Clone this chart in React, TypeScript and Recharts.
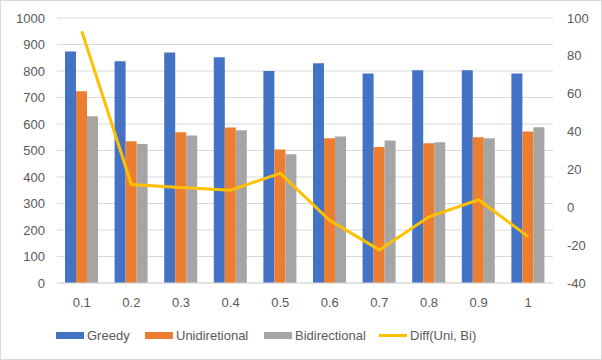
import { ComposedChart, Bar, Line, XAxis, YAxis, CartesianGrid } from 'recharts';

const categories = ['0.1', '0.2', '0.3', '0.4', '0.5', '0.6', '0.7', '0.8', '0.9', '1'];
const greedy = [874, 837, 870, 852, 800, 829, 791, 803, 803, 791];
const unidirectional = [724, 535, 569, 587, 504, 546, 513, 527, 550, 572];
const bidirectional = [629, 525, 557, 576, 486, 553, 538, 531, 546, 588];
const diffUniBi = [93, 12, 10.5, 9, 18, -7, -22.5, -5, 4, -15.5];

const leftTicks = [0, 100, 200, 300, 400, 500, 600, 700, 800, 900, 1000];
const rightTicks = [-40, -20, 0, 20, 40, 60, 80, 100];

const COLORS = {
  greedy: '#4472C4',
  uni: '#ED7D31',
  bi: '#A5A5A5',
  diff: '#FFC000',
};

const FONT = '"Liberation Sans", Arial, sans-serif';
const TEXT = '#595959';

const legendItems = [
  { label: 'Greedy', color: COLORS.greedy, kind: 'rect', width: 89 },
  { label: 'Unidiretional', color: COLORS.uni, kind: 'rect', width: 119 },
  { label: 'Bidirectional', color: COLORS.bi, kind: 'rect', width: 115 },
  { label: 'Diff(Uni, Bi)', color: COLORS.diff, kind: 'line', width: 100 },
];

function ChartLegend() {
  return (
    <div
      style={{
        position: 'absolute',
        left: 55,
        top: 327,
        display: 'flex',
        alignItems: 'center',
        fontFamily: FONT,
        fontSize: 13,
        color: TEXT,
      }}
    >
      {legendItems.map((item) => (
        <div key={item.label} style={{ display: 'flex', alignItems: 'center', width: item.width }}>
          <span
            style={{
              display: 'inline-block',
              width: 28,
              height: item.kind === 'rect' ? 7 : 3,
              backgroundColor: item.color,
              marginRight: 3,
            }}
          />
          <span style={{ whiteSpace: 'nowrap' }}>{item.label}</span>
        </div>
      ))}
    </div>
  );
}

export default function App() {
  const data = categories.map((c, i) => ({
    cat: c,
    greedy: greedy[i],
    uni: unidirectional[i],
    bi: bidirectional[i],
    diff: diffUniBi[i],
  }));

  return (
    <div
      style={{
        position: 'fixed',
        left: 0,
        top: 0,
        width: 602,
        height: 360,
        boxSizing: 'border-box',
        border: '1px solid #d9d9d9',
        background: '#fff',
      }}
    >
      <ComposedChart
        width={600}
        height={358}
        data={data}
        margin={{ top: 17, right: 0, bottom: 0, left: 0 }}
        barGap={0}
        style={{ fontFamily: FONT }}
      >
        <CartesianGrid vertical={false} stroke="#d9d9d9" yAxisId="left" />
        <XAxis
          dataKey="cat"
          axisLine={{ stroke: '#d9d9d9' }}
          tickLine={false}
          tickSize={0}
          tickMargin={15}
          height={76}
          tick={{ fill: TEXT, fontSize: 13 }}
          interval={0}
        />
        <YAxis
          yAxisId="left"
          domain={[0, 1000]}
          ticks={leftTicks}
          axisLine={false}
          tickLine={false}
          tickSize={0}
          tickMargin={12}
          width={56}
          tick={{ fill: TEXT, fontSize: 13 }}
          interval={0}
        />
        <YAxis
          yAxisId="right"
          orientation="right"
          domain={[-40, 100]}
          ticks={rightTicks}
          axisLine={false}
          tickLine={false}
          tickSize={0}
          tickMargin={14}
          width={48}
          tick={{ fill: TEXT, fontSize: 13 }}
          interval={0}
        />
        <Bar yAxisId="left" dataKey="greedy" name="Greedy" fill={COLORS.greedy} barSize={11} isAnimationActive={false} />
        <Bar yAxisId="left" dataKey="uni" name="Unidiretional" fill={COLORS.uni} barSize={11} isAnimationActive={false} />
        <Bar yAxisId="left" dataKey="bi" name="Bidirectional" fill={COLORS.bi} barSize={11} isAnimationActive={false} />
        <Line
          yAxisId="right"
          dataKey="diff"
          name="Diff(Uni, Bi)"
          stroke={COLORS.diff}
          strokeWidth={3}
          dot={false}
          type="linear"
          isAnimationActive={false}
        />
      </ComposedChart>
      <ChartLegend />
    </div>
  );
}
